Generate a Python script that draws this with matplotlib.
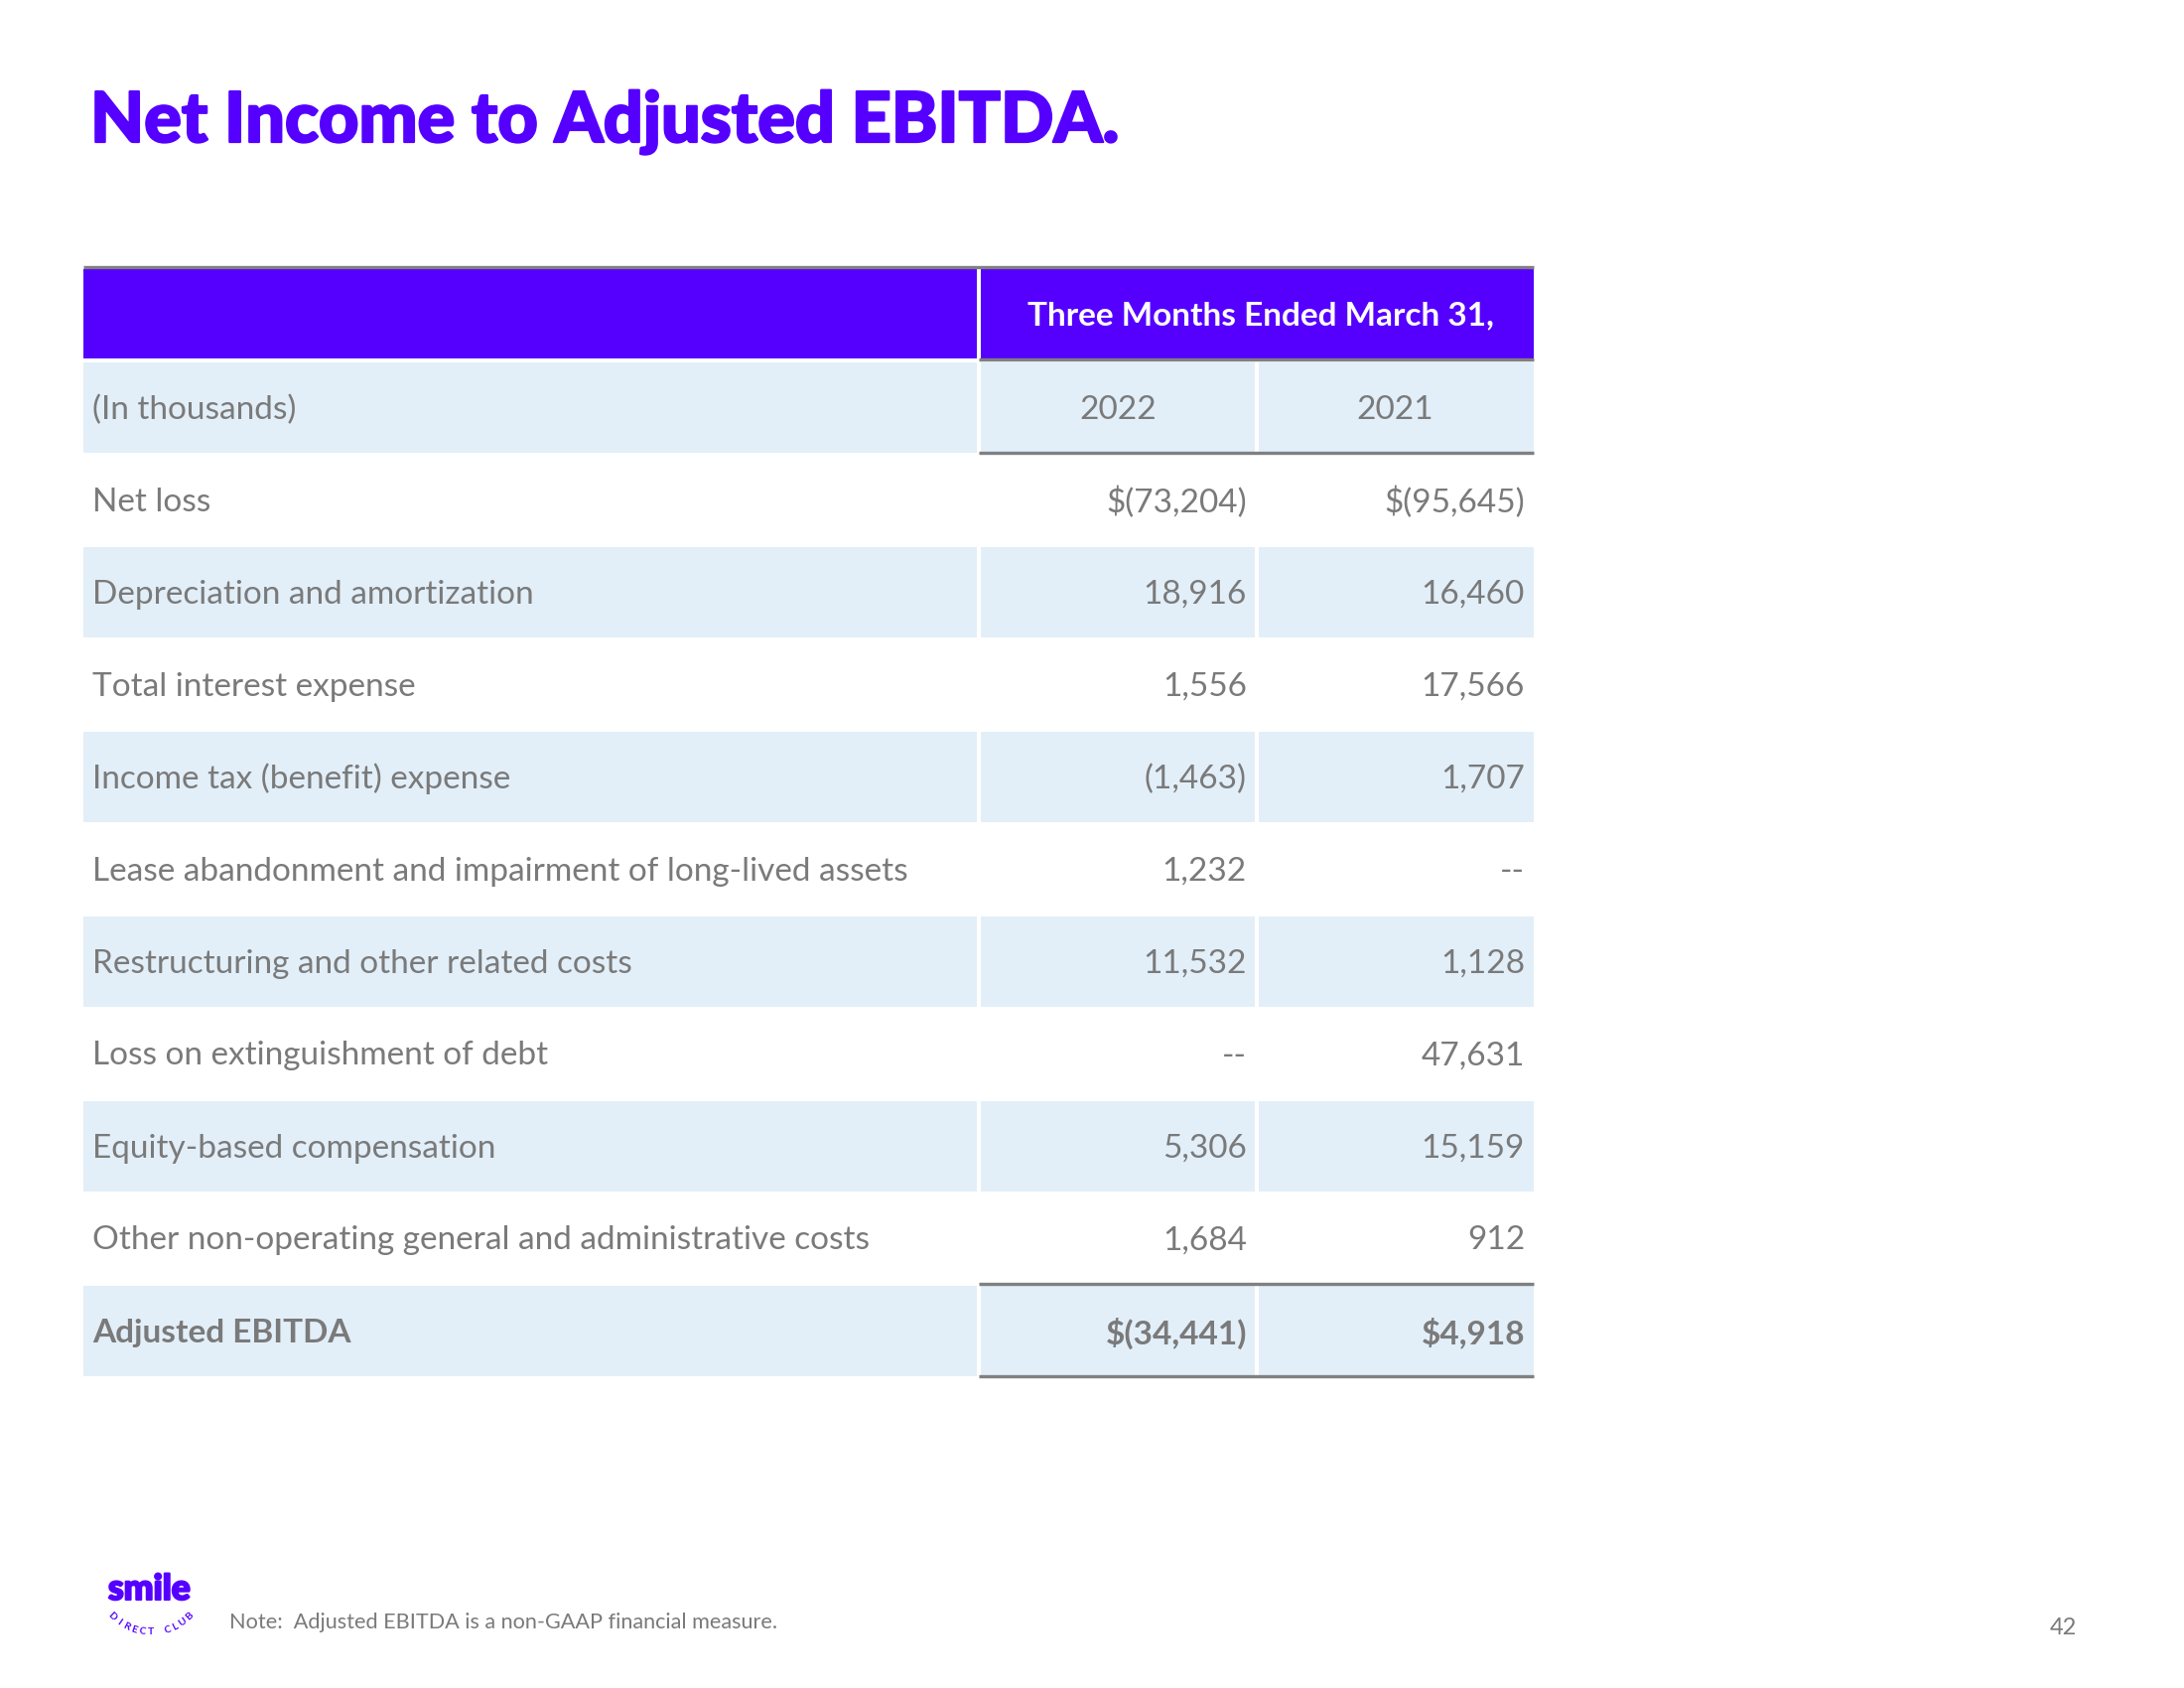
import matplotlib
matplotlib.use("Agg")
import matplotlib.pyplot as plt
from matplotlib.patches import Rectangle
import matplotlib.patheffects as pe
import numpy as np

# ---------------- data ----------------
title = "Net Income to Adjusted EBITDA."
period_header = "Three Months Ended March 31,"
unit_label = "(In thousands)"
years = ["2022", "2021"]
row_labels = [
    "Net loss",
    "Depreciation and amortization",
    "Total interest expense",
    "Income tax (benefit) expense",
    "Lease abandonment and impairment of long-lived assets",
    "Restructuring and other related costs",
    "Loss on extinguishment of debt",
    "Equity-based compensation",
    "Other non-operating general and administrative costs",
    "Adjusted EBITDA",
]
values_2022 = [-73204, 18916, 1556, -1463, 1232, 11532, None, 5306, 1684, -34441]
values_2021 = [-95645, 16460, 17566, 1707, None, 1128, 47631, 15159, 912, 4918]
dollar_rows = ["Net loss", "Adjusted EBITDA"]
bold_rows = ["Adjusted EBITDA"]
note_text = "Note:  Adjusted EBITDA is a non-GAAP financial measure."
page_number = "42"
logo_word = "smile"
logo_arc = "DIRECT CLUB"

# ---------------- style ----------------
PURPLE = "#5500FF"
SHADE = "#E2EFF9"
GRAY_TXT = "#7a7a7a"
GRAY_LINE = "#808080"
FONT = "Lato"
FS = 24

W, H = 2200, 1700
fig = plt.figure(figsize=(22, 17), dpi=100)
ax = fig.add_axes([0, 0, 1, 1])
ax.set_xlim(0, W)
ax.set_ylim(H, 0)
ax.axis("off")


def fmt(v, dollar):
    if v is None:
        return "--"
    s = f"{abs(v):,}"
    if v < 0:
        s = f"({s})"
    if dollar:
        s = "$" + s
    return s


# layout
x_left, x_c1, x_c2, x_right = 84, 986, 1266, 1545
gap = 2
header_top, header_bot = 271, 361
row_top0, row_h = 365, 93

# title
ax.text(91, 143, title, fontsize=50.5, fontweight="black", color=PURPLE,
        family=FONT, ha="left", va="baseline",
        path_effects=[pe.withStroke(linewidth=1.6, foreground=PURPLE)])

# header
ax.add_patch(Rectangle((x_left, header_top), x_c1 - gap - x_left, header_bot - header_top,
                       facecolor=PURPLE, edgecolor="none"))
ax.add_patch(Rectangle((x_c1 + gap, header_top), x_right - x_c1 - gap, header_bot - header_top,
                       facecolor=PURPLE, edgecolor="none"))
ax.text((x_c1 + x_right) / 2 + 4, (header_top + header_bot) / 2 + 2, period_header,
        fontsize=24, fontweight="bold", color="white", family=FONT,
        ha="center", va="center")
ax.plot([x_left, x_right], [269, 269], color=GRAY_LINE, lw=2.4, solid_capstyle="butt")

# rows
all_rows = [unit_label] + row_labels
col_cells = [(x_left, x_c1 - gap), (x_c1 + gap, x_c2 - gap), (x_c2 + gap, x_right)]
for i, lab in enumerate(all_rows):
    top = row_top0 + i * row_h
    yc = top + row_h / 2 + 1
    if i % 2 == 0:
        for (a, b) in col_cells:
            ax.add_patch(Rectangle((a, top), b - a, row_h - 2,
                                   facecolor=SHADE, edgecolor="none"))
    weight = "bold" if lab in bold_rows else "normal"
    ax.text(x_left + 9, yc, lab, fontsize=FS, color=GRAY_TXT, family=FONT,
            fontweight=weight, ha="left", va="center")
    if i == 0:
        ax.text((x_c1 + x_c2) / 2, yc, years[0], fontsize=FS, color=GRAY_TXT,
                family=FONT, ha="center", va="center")
        ax.text((x_c2 + x_right) / 2, yc, years[1], fontsize=FS, color=GRAY_TXT,
                family=FONT, ha="center", va="center")
    else:
        j = i - 1
        d = lab in dollar_rows
        ax.text(x_c2 - 10, yc, fmt(values_2022[j], d), fontsize=FS, color=GRAY_TXT,
                family=FONT, fontweight=weight, ha="right", va="center")
        ax.text(x_right - 9, yc, fmt(values_2021[j], d), fontsize=FS, color=GRAY_TXT,
                family=FONT, fontweight=weight, ha="right", va="center")

n = len(all_rows)
for y in [header_bot + 1, row_top0 + row_h - 2, row_top0 + (n - 1) * row_h - 2,
          row_top0 + n * row_h - 2]:
    ax.plot([x_c1, x_right], [y, y], color=GRAY_LINE, lw=2.4, solid_capstyle="butt")

# footer logo
ax.text(109, 1611, logo_word, fontsize=25.5, fontweight="black", color=PURPLE,
        family=FONT, ha="left", va="baseline",
        path_effects=[pe.withStroke(linewidth=1.5, foreground=PURPLE)])
cx, cy, r = 152, 1588, 56
angles = np.linspace(226, 314, len(logo_arc))
for ch, ang in zip(logo_arc, angles):
    if ch == " ":
        continue
    a = np.deg2rad(ang)
    px = cx + r * np.cos(a)
    py = cy - r * np.sin(a)
    ax.text(px, py, ch, fontsize=7.5, fontweight="bold", color=PURPLE, family=FONT,
            ha="center", va="center", rotation=ang + 90)

ax.text(231, 1634, note_text, fontsize=15.6, color=GRAY_TXT, family=FONT,
        ha="left", va="center")
ax.text(2092, 1639, page_number, fontsize=17, color=GRAY_TXT, family=FONT,
        ha="right", va="center")

fig.savefig("out.png", dpi=100, facecolor="white")
